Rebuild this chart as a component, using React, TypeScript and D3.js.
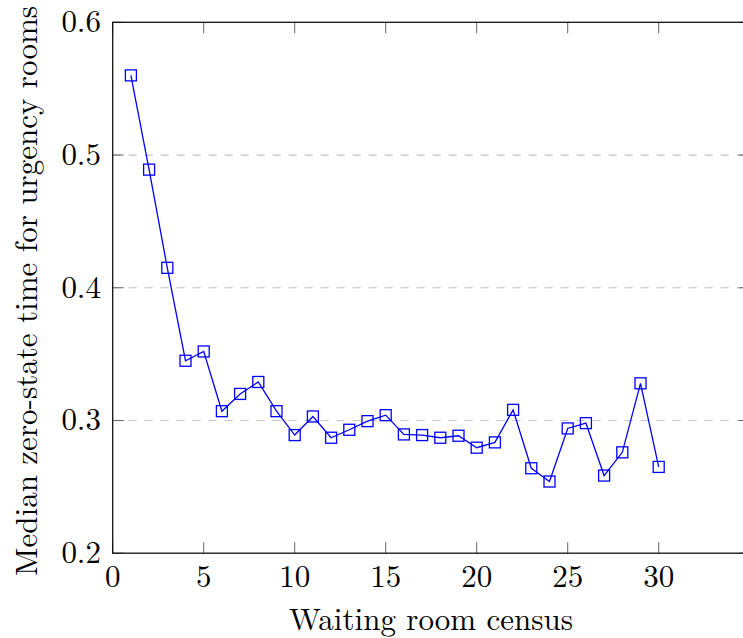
import React from 'react';
import * as d3 from 'd3';

// waiting room census (x) and median zero-state time (y)
const census = [
  1, 2, 3, 4, 5, 6, 7, 8, 9, 10, 11, 12, 13, 14, 15,
  16, 17, 18, 19, 20, 21, 22, 23, 24, 25, 26, 27, 28, 29, 30,
];
const medianTime = [
  0.56, 0.489, 0.415, 0.345, 0.352, 0.307, 0.32, 0.329, 0.307, 0.289,
  0.303, 0.287, 0.293, 0.2995, 0.304, 0.2895, 0.289, 0.287, 0.2885, 0.2795,
  0.2835, 0.308, 0.264, 0.254, 0.294, 0.298, 0.2585, 0.276, 0.328, 0.265,
];
const xTicks = [0, 5, 10, 15, 20, 25, 30];
const yTicks = [0.2, 0.3, 0.4, 0.5, 0.6];
const yGrid = [0.3, 0.4, 0.5];

const W = 743;
const H = 638;
const FONT = "'Latin Modern Roman', 'Liberation Serif', serif";

const App = () => {
  const left = 112.7;
  const top = 22.3;
  const bottom = 553.2;

  const x = d3.scaleLinear().domain([0, 35]).range([left, left + 35 * 18.2]);
  const y = d3.scaleLinear().domain([0.2, 0.6]).range([bottom, top]);
  const right = x(35);

  const line = d3
    .line<number>()
    .x((_, i) => x(census[i]))
    .y((d) => y(d));

  const tick = 11;
  const ms = 11;

  return (
    <svg
      width={W}
      height={H}
      style={{ position: 'absolute', left: 0, top: 0, background: '#fff' }}
      fontFamily={FONT}
    >
      {/* grid */}
      {yGrid.map((v) => (
        <line
          key={'g' + v}
          x1={left}
          x2={right}
          y1={y(v)}
          y2={y(v)}
          stroke="#c4c4c4"
          strokeWidth={1.2}
          strokeDasharray="8,8"
        />
      ))}

      {/* ticks */}
      {xTicks.map((v) => (
        <g key={'xt' + v} stroke="#666" strokeWidth={1}>
          <line x1={x(v)} x2={x(v)} y1={bottom} y2={bottom - tick} />
          <line x1={x(v)} x2={x(v)} y1={top} y2={top + tick} />
        </g>
      ))}
      {yTicks.map((v) => (
        <g key={'yt' + v} stroke="#666" strokeWidth={1}>
          <line x1={left} x2={left + tick} y1={y(v)} y2={y(v)} />
          <line x1={right} x2={right - tick} y1={y(v)} y2={y(v)} />
        </g>
      ))}

      {/* frame */}
      <rect
        x={left}
        y={top}
        width={right - left}
        height={bottom - top}
        fill="none"
        stroke="#111"
        strokeWidth={1.3}
      />

      {/* series */}
      <path d={line(medianTime) || ''} fill="none" stroke="#0000ff" strokeWidth={1.3} />
      {medianTime.map((d, i) => (
        <rect
          key={'m' + i}
          x={x(census[i]) - ms / 2}
          y={y(d) - ms / 2}
          width={ms}
          height={ms}
          fill="none"
          stroke="#0000ff"
          strokeWidth={1.3}
        />
      ))}

      {/* tick labels */}
      {xTicks.map((v) => (
        <text key={'xl' + v} x={x(v)} y={bottom + 34} textAnchor="middle" fontSize={31} fill="#000">
          {v}
        </text>
      ))}
      {yTicks.map((v) => (
        <text key={'yl' + v} x={101} y={y(v) + 10} textAnchor="end" fontSize={31} fill="#000">
          {v.toFixed(1)}
        </text>
      ))}

      {/* axis labels */}
      <text x={431} y={630} textAnchor="middle" fontSize={31} fill="#000" textLength={284} lengthAdjust="spacing">
        Waiting room census
      </text>
      <text
        transform={`translate(37, 291) rotate(-90)`}
        textAnchor="middle"
        fontSize={31}
        fill="#000"
        textLength={570}
        lengthAdjust="spacing"
      >
        Median zero-state time for urgency rooms
      </text>
    </svg>
  );
};

export default App;
